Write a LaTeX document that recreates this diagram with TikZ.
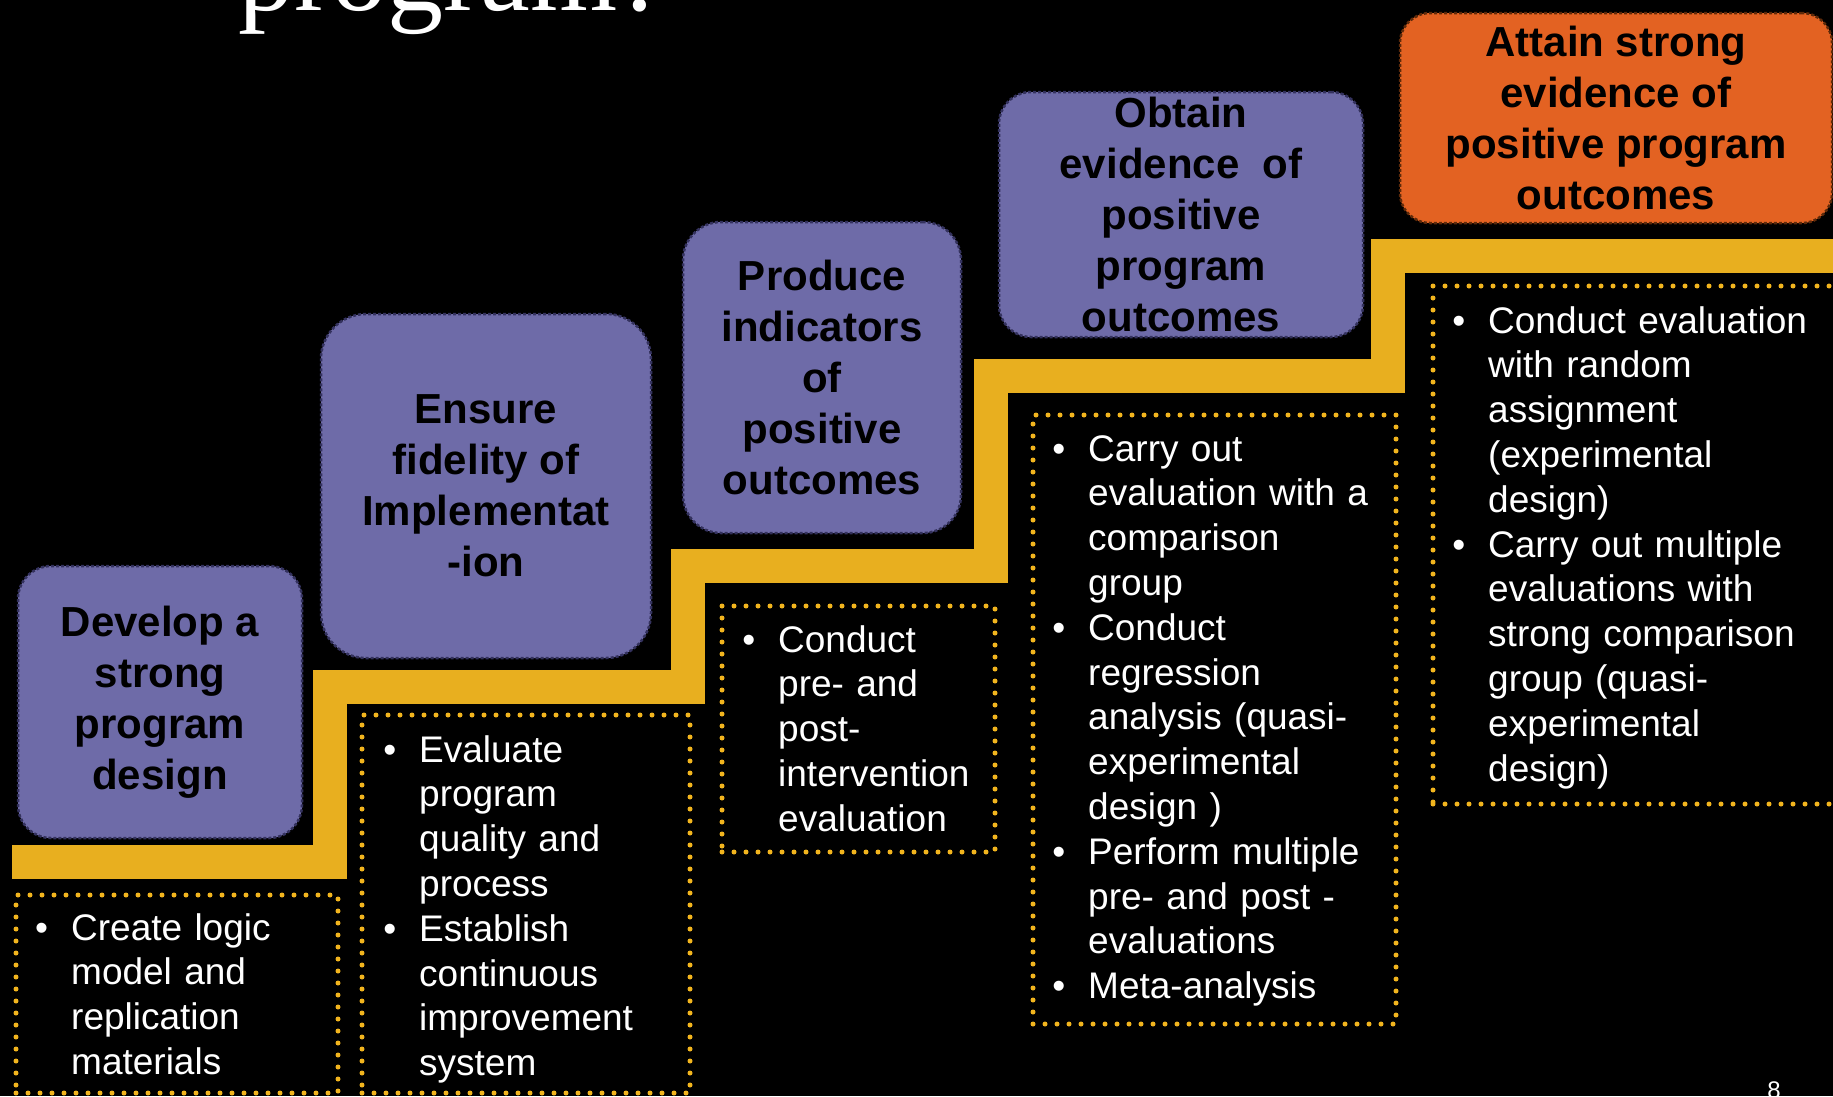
\documentclass[tikz,border=0pt]{standalone}
\usepackage{fontspec}
\setmainfont{Liberation Sans}
\newfontfamily\titlefont{Liberation Serif}
\usepackage{tikz}
\definecolor{StepGold}{HTML}{E8AF1F}
\definecolor{DotGold}{HTML}{F2B51E}
\definecolor{GoalPurple}{HTML}{6E6BA8}
\definecolor{GoalEdge}{HTML}{34325E}
\definecolor{TopOrange}{HTML}{E36222}
\definecolor{TopEdge}{HTML}{5E2A0A}
\newcommand{\bl}{\leavevmode\llap{\textbullet\hspace{23pt}}}

\begin{document}
\begin{tikzpicture}[
  x=1pt, y=-1pt,
  goal/.style={rectangle, draw=GoalEdge, fill=GoalPurple, line width=2.5pt, dash pattern=on 3pt off 2pt, inner sep=0pt, align=center, font=\fontsize{42}{51}\selectfont\bfseries},
  topgoal/.style={goal, draw=TopEdge, fill=TopOrange},
  tasks/.style={rectangle, draw=DotGold, line width=5pt, line cap=round, dash pattern=on 0pt off 12pt, inner sep=0pt},
  tasktext/.style={anchor=base west, inner sep=0pt, text=white, text width=400pt, align=left, font=\fontsize{37}{44.8}\selectfont},
  stair/.style={draw=StepGold, line width=34pt, line join=miter}
]
  % Background
  \fill[black] (0,0) rectangle (1833,1096);
  \useasboundingbox (0,0) rectangle (1833,1096);
  \clip (0,0) rectangle (1833,1096);

  % Title (cut off at the top)
  \node[anchor=base west, inner sep=0pt, text=white, font=\titlefont\fontsize{112}{120}\selectfont] (title) at (238,10) {program?};

  % Staircase
  \draw[stair] (12,861.5) -- (329.5,861.5) -- (329.5,686.5) -- (687.5,686.5) -- (687.5,565.5)
    -- (990.5,565.5) -- (990.5,376) -- (1387.5,376) -- (1387.5,255.5) -- (1845,255.5);

  % Steps
  \node[goal, rounded corners=33pt, minimum width=284pt, minimum height=272pt] (design) at (160,702) {Develop a\\strong\\program\\design};
  \node[goal, rounded corners=45pt, minimum width=330pt, minimum height=344pt] (fidelity) at (486,486) {Ensure\\fidelity of\\Implementat\\-ion};
  \node[goal, rounded corners=38pt, minimum width=278pt, minimum height=311pt] (indicators) at (822,377.5) {Produce\\indicators\\of\\positive\\outcomes};
  \node[goal, rounded corners=32pt, minimum width=364pt, minimum height=245pt] (evidence) at (1181,214.5) {Obtain\\evidence~ of\\positive\\program\\outcomes};
  \node[topgoal, rounded corners=30pt, minimum width=432pt, minimum height=210pt] (strong) at (1616,118) {Attain strong\\evidence of\\positive program\\outcomes};

  % Activities under each step
  \node[tasks, minimum width=322pt, minimum height=198pt] (designbox) at (177,994) {};
  \node[tasks, minimum width=328pt, minimum height=378pt] (fidelitybox) at (526,904) {};
  \node[tasks, minimum width=273pt, minimum height=246pt] (indicatorsbox) at (858.5,729) {};
  \node[tasks, minimum width=363pt, minimum height=609pt] (evidencebox) at (1214.5,719.5) {};
  \node[tasks, minimum width=407pt, minimum height=518pt] (strongbox) at (1636.5,545) {};

  \node[tasktext] (designlist) at (71,940) {\bl Create logic\\model and\\replication\\materials};
  \node[tasktext] (fidelitylist) at (419,762) {\bl Evaluate\\program\\quality and\\process\\
    \bl Establish\\continuous\\improvement\\system};
  \node[tasktext] (indicatorslist) at (778,652) {\bl Conduct\\pre- and\\post-\\intervention\\evaluation};
  \node[tasktext] (evidencelist) at (1088,461) {\bl Carry out\\evaluation with a\\comparison\\group\\
    \bl Conduct\\regression\\analysis (quasi-\\experimental\\design )\\
    \bl Perform multiple\\pre- and post -\\evaluations\\
    \bl Meta-analysis};
  \node[tasktext] (stronglist) at (1488,333) {\bl Conduct evaluation\\with random\\assignment\\(experimental\\design)\\
    \bl Carry out multiple\\evaluations with\\strong comparison\\group (quasi-\\experimental\\design)};

  % Page number
  \node[anchor=base, inner sep=0pt, text=white, font=\fontsize{24}{28}\selectfont] (pagenum) at (1774,1098) {8};
\end{tikzpicture}
\end{document}
